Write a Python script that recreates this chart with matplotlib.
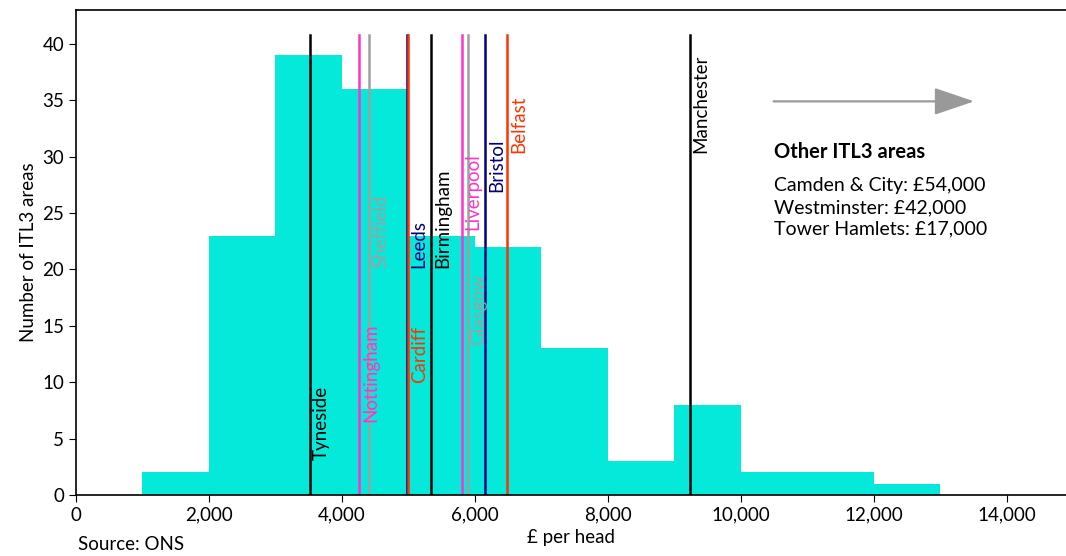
import numpy as np
import matplotlib.pyplot as plt
from matplotlib.ticker import FuncFormatter

plt.rcParams['font.family'] = ['Lato', 'DejaVu Sans']

# histogram of ITL3 areas (bin edges in £ per head, counts)
bin_left = [1000, 2000, 3000, 4000, 5000, 6000, 7000, 8000, 9000, 10000, 11000, 12000]
counts = [2, 23, 39, 36, 23, 22, 13, 3, 8, 2, 2, 1]
bin_width = 1000

# cities marked by vertical lines
cities = ['Tyneside', 'Nottingham', 'Sheffield', 'Leeds', 'Cardiff', 'Birmingham',
          'Liverpool', 'Glasgow', 'Bristol', 'Belfast', 'Manchester']
city_values = [3520, 4260, 4410, 4980, 5000, 5340, 5800, 5890, 6150, 6480, 9230]
label_y = [3.1, 6.5, 20.1, 20.1, 9.9, 20.1, 23.5, 13.3, 26.9, 30.3, 30.3]
city_colors = ['black', '#FF33CC', '#A0A0A0', '#000080', '#FF3300', 'black',
               '#FF33CC', '#A0A0A0', '#000080', '#FF3300', 'black']

others_title = 'Other ITL3 areas'
others = ['Camden & City: £54,000', 'Westminster: £42,000', 'Tower Hamlets: £17,000']

fig = plt.figure(figsize=(10.66, 5.56), dpi=100)
ax = fig.add_axes([76/1066, 61/556, 1 - 76/1066, 485/556])

ax.bar(bin_left, counts, width=bin_width, align='edge', color='#04E9DA', zorder=1)

for name, xv, ly, c in zip(cities, city_values, label_y, city_colors):
    ax.plot([xv, xv], [0, 40.8], color=c, lw=1.8, zorder=2)
    ax.text(xv + 45, ly, name, rotation=90, ha='left', va='bottom', color=c,
            fontsize=13.5, zorder=3)

ax.annotate('', xy=(13550, 34.9), xytext=(10450, 34.9),
            arrowprops=dict(arrowstyle='-|>,head_length=2.5,head_width=0.85',
                            color='#999999', lw=1.6))

ax.text(10500, 30.4, others_title, fontsize=14.5, fontweight='bold', va='center')
for i, line in enumerate(others):
    ax.text(10500, 27.4 - i * 1.9, line, fontsize=14, va='center')

ax.set_xlim(0, 14890)
ax.set_ylim(0, 43)
ax.set_xticks(np.arange(0, 14001, 2000))
ax.set_yticks(np.arange(0, 41, 5))
ax.xaxis.set_major_formatter(FuncFormatter(lambda v, p: '{:,.0f}'.format(v)))
ax.tick_params(labelsize=13.5, length=5)
ax.spines['right'].set_visible(False)
for s in ['left', 'bottom', 'top']:
    ax.spines[s].set_linewidth(1.2)

ax.set_xlabel('£ per head', fontsize=13.5, labelpad=4)
ax.set_ylabel('Number of ITL3 areas', fontsize=13.5, labelpad=4)
fig.text(78/1066, 1 - 545/556, 'Source: ONS', fontsize=13.5, va='center')

plt.savefig('out.png', dpi=100)
